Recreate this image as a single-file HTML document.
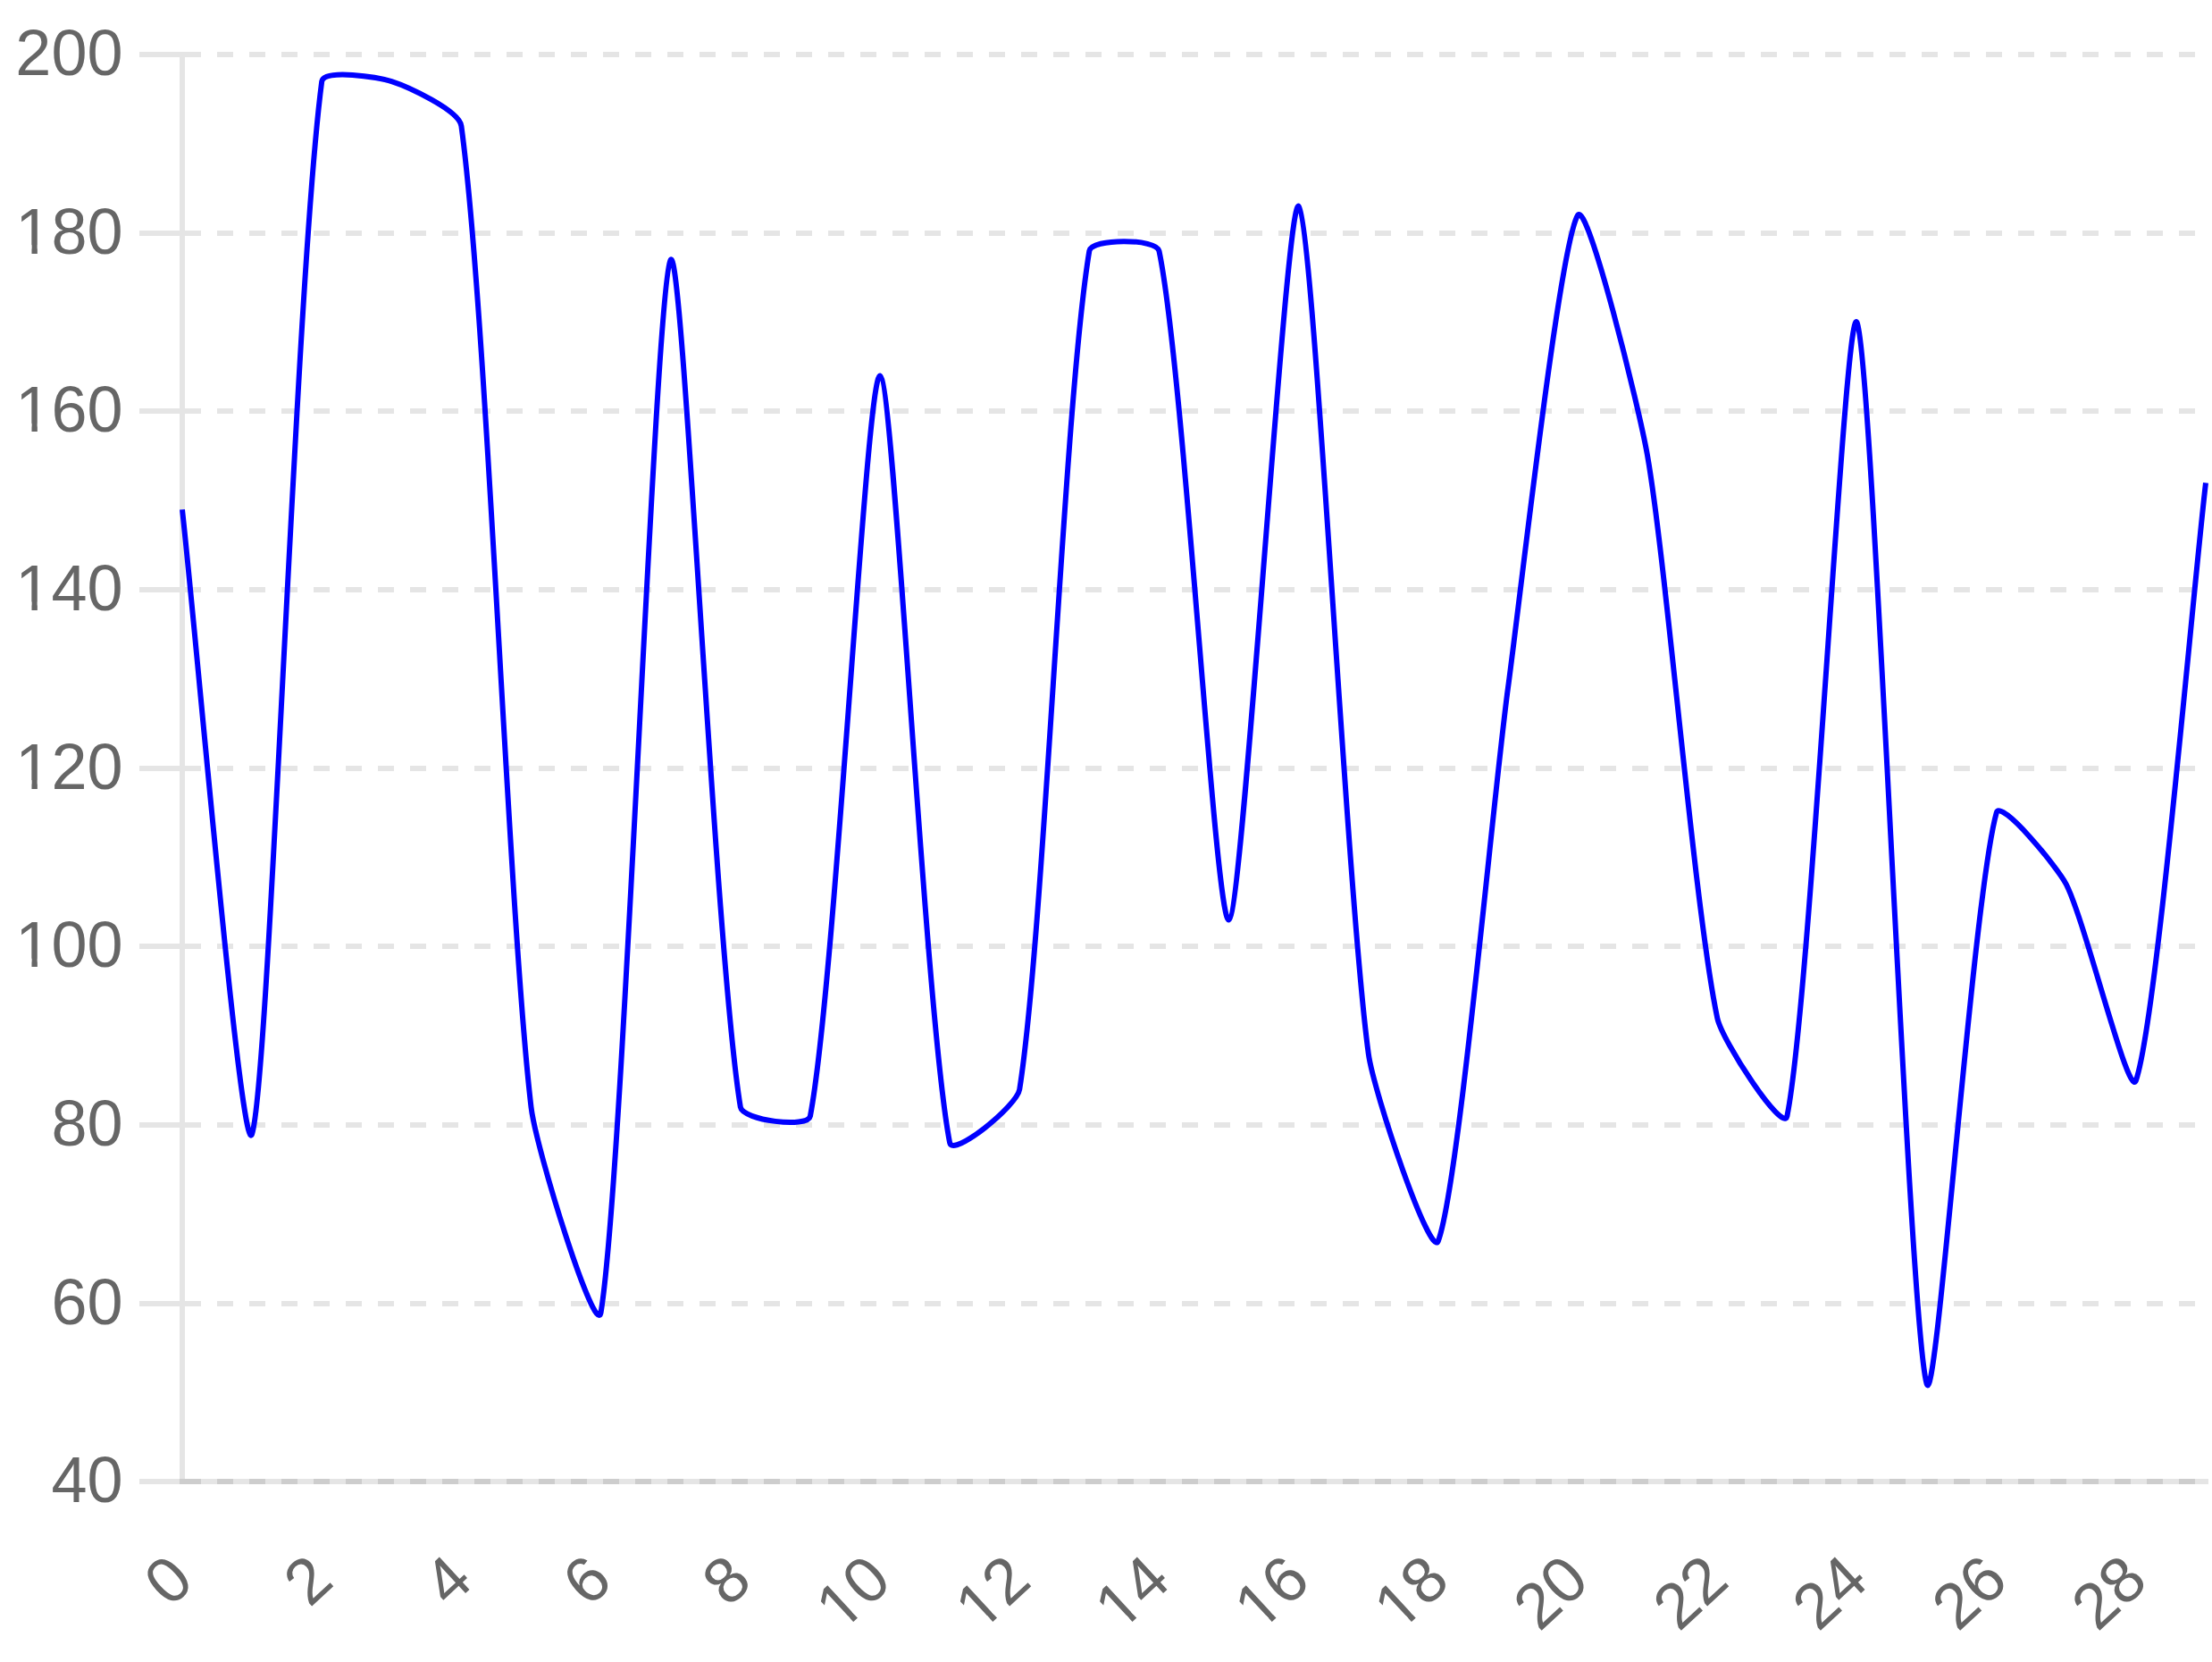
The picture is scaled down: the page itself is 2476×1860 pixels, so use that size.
<!DOCTYPE html>
<html lang="en">
<head>
<meta charset="utf-8">
<title>Line chart</title>
<style>
  html, body { margin: 0; padding: 0; background: #ffffff; }
  body { width: 2476px; height: 1860px; overflow: hidden; }
  .chart { display: block; width: 2476px; height: 1860px; background: #ffffff; }
  .chart text { font-family: "Liberation Sans", sans-serif; font-size: 72px; font-weight: 400; fill: #666666; text-anchor: end; }
  .axis rect, .grid rect { fill: rgba(0, 0, 0, 0.1); }
  .grid line { stroke: rgba(0, 0, 0, 0.1); stroke-width: 6; stroke-dasharray: 18 18; fill: none; }
  .mask { fill: #ffffff; shape-rendering: geometricPrecision; }
  .series { fill: none; stroke: #0000ff; stroke-width: 6; stroke-linecap: butt; stroke-linejoin: miter; }
</style>
</head>
<body>
<svg class="chart" width="2476" height="1860" viewBox="0 0 2476 1860" role="img" aria-label="Line chart" shape-rendering="crispEdges">
<!-- y axis: tick marks and dashed grid lines -->
<g class="grid">
<rect x="156" y="58" width="45" height="6"/><line x1="207" y1="61" x2="2472" y2="61"/>
<rect x="156" y="258" width="45" height="6"/><line x1="207" y1="261" x2="2472" y2="261"/>
<rect x="156" y="457" width="45" height="6"/><line x1="207" y1="460" x2="2472" y2="460"/>
<rect x="156" y="657" width="45" height="6"/><line x1="207" y1="660" x2="2472" y2="660"/>
<rect x="156" y="857" width="45" height="6"/><line x1="207" y1="860" x2="2472" y2="860"/>
<rect x="156" y="1056" width="45" height="6"/><line x1="207" y1="1059" x2="2472" y2="1059"/>
<rect x="156" y="1256" width="45" height="6"/><line x1="207" y1="1259" x2="2472" y2="1259"/>
<rect x="156" y="1456" width="45" height="6"/><line x1="207" y1="1459" x2="2472" y2="1459"/>
<rect x="156" y="1655" width="45" height="6"/><line x1="207" y1="1658" x2="2472" y2="1658"/>
</g>
<!-- axis borders -->
<g class="axis">
<rect x="201" y="58" width="6" height="1603"/>
<rect x="201" y="1655" width="2271" height="6"/>
</g>
<!-- data series -->
<path class="series" shape-rendering="geometricPrecision" d="M204 570.29C219.62 710.04 270.44 1304.82 282.1 1269.04C301.68 1208.99 330.9 312.11 360.21 91.15C362.15 76.53 424.02 86.58 438.31 91.15C455.27 96.56 513.99 123.23 516.41 141.06C545.23 352.82 568.92 1021.51 594.52 1239.1C600.16 1287.03 667.3 1501.01 672.62 1468.69C698.54 1311.35 733.43 316.22 750.72 290.79C764.67 270.3 799.97 1062.09 828.83 1239.1C831.22 1253.75 904.23 1263.23 906.93 1249.08C935.47 1099.52 969.69 417.62 985.03 420.56C1000.93 423.61 1035.1 1135.68 1063.14 1279.03C1066.34 1295.39 1138.28 1238.03 1141.24 1219.13C1169.53 1038.38 1190.5 454.1 1219.34 280.81C1221.74 266.43 1294.51 266.73 1297.45 280.81C1325.75 416.47 1360.43 1034.3 1375.55 1029.47C1391.67 1024.32 1439.36 217.2 1453.66 230.9C1470.6 247.14 1506.46 991.7 1531.76 1179.2C1537.71 1223.29 1601.62 1410.44 1609.86 1388.83C1632.86 1328.58 1671.14 893.55 1687.97 769.94C1702.39 663.96 1745.58 274.92 1766.07 240.88C1776.82 223.02 1834.58 455.25 1844.17 510.4C1865.83 634.93 1896.51 1017.45 1922.28 1139.28C1927.75 1165.18 1996.28 1269.52 2000.38 1249.08C2027.52 1113.8 2065.1 335.01 2078.48 360.67C2096.34 394.91 2136.31 1477.27 2156.59 1548.55C2167.55 1587.08 2208.07 1004.95 2234.69 909.69C2239.31 893.15 2302.67 970.14 2312.79 989.54C2333.91 1030.03 2382.86 1232.25 2390.9 1209.15C2414.1 1142.41 2453.38 674.11 2469 540.35"/>
<!-- y axis labels -->
<g class="y-labels">
<text x="137.5" y="84">200</text>
<text x="137.5" y="283.64">180</text><rect class="mask" x="20.86" y="274.14" width="14.62" height="11"/><rect class="mask" x="41.84" y="274.14" width="14.06" height="11"/>
<text x="137.5" y="483.29">160</text><rect class="mask" x="20.86" y="473.79" width="14.62" height="11"/><rect class="mask" x="41.84" y="473.79" width="14.06" height="11"/>
<text x="137.5" y="682.93">140</text><rect class="mask" x="20.86" y="673.43" width="14.62" height="11"/><rect class="mask" x="41.84" y="673.43" width="14.06" height="11"/>
<text x="137.5" y="882.57">120</text><rect class="mask" x="20.86" y="873.07" width="14.62" height="11"/><rect class="mask" x="41.84" y="873.07" width="14.06" height="11"/>
<text x="137.5" y="1082.22">100</text><rect class="mask" x="20.86" y="1072.72" width="14.62" height="11"/><rect class="mask" x="41.84" y="1072.72" width="14.06" height="11"/>
<text x="137.5" y="1281.86">80</text>
<text x="137.5" y="1481.51">60</text>
<text x="137.5" y="1681.15">40</text>
</g>
<!-- x axis labels -->
<g class="x-labels">
<text transform="translate(174.64 1724.35) rotate(-42.82)" x="0" y="66.2">0</text>
<text transform="translate(330.84 1724.35) rotate(-42.82)" x="0" y="66.2">2</text>
<text transform="translate(487.05 1724.35) rotate(-42.82)" x="0" y="66.2">4</text>
<text transform="translate(643.26 1724.35) rotate(-42.82)" x="0" y="66.2">6</text>
<text transform="translate(799.46 1724.35) rotate(-42.82)" x="0" y="66.2">8</text>
<g transform="translate(955.67 1724.35) rotate(-42.82)"><text x="0" y="66.2">10</text><rect class="mask" x="-76.6" y="56.7" width="14.62" height="11"/><rect class="mask" x="-55.62" y="56.7" width="14.06" height="11"/></g>
<g transform="translate(1111.88 1724.35) rotate(-42.82)"><text x="0" y="66.2">12</text><rect class="mask" x="-76.6" y="56.7" width="14.62" height="11"/><rect class="mask" x="-55.62" y="56.7" width="14.06" height="11"/></g>
<g transform="translate(1268.09 1724.35) rotate(-42.82)"><text x="0" y="66.2">14</text><rect class="mask" x="-76.6" y="56.7" width="14.62" height="11"/><rect class="mask" x="-55.62" y="56.7" width="14.06" height="11"/></g>
<g transform="translate(1424.29 1724.35) rotate(-42.82)"><text x="0" y="66.2">16</text><rect class="mask" x="-76.6" y="56.7" width="14.62" height="11"/><rect class="mask" x="-55.62" y="56.7" width="14.06" height="11"/></g>
<g transform="translate(1580.5 1724.35) rotate(-42.82)"><text x="0" y="66.2">18</text><rect class="mask" x="-76.6" y="56.7" width="14.62" height="11"/><rect class="mask" x="-55.62" y="56.7" width="14.06" height="11"/></g>
<text transform="translate(1736.71 1724.35) rotate(-42.82)" x="0" y="66.2">20</text>
<text transform="translate(1892.91 1724.35) rotate(-42.82)" x="0" y="66.2">22</text>
<text transform="translate(2049.12 1724.35) rotate(-42.82)" x="0" y="66.2">24</text>
<text transform="translate(2205.33 1724.35) rotate(-42.82)" x="0" y="66.2">26</text>
<text transform="translate(2361.53 1724.35) rotate(-42.82)" x="0" y="66.2">28</text>
</g>
</svg>
</body>
</html>
